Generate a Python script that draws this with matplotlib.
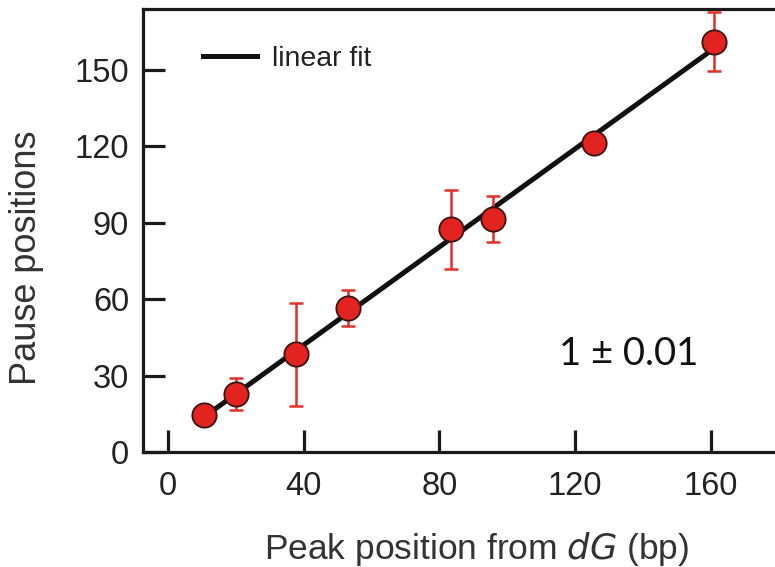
import numpy as np
import matplotlib
matplotlib.use("Agg")
import matplotlib.pyplot as plt

# values
peak_pos = [10.7, 20.1, 37.8, 53.2, 83.3, 95.7, 125.5, 161.0]
pause_pos = [14.5, 22.8, 38.4, 56.5, 87.5, 91.5, 121.3, 161.1]
pause_err = [0, 6.2, 20.3, 7.2, 15.5, 9.2, 3.0, 11.6]
xticks = [0, 40, 80, 120, 160]
yticks = [0, 30, 60, 90, 120, 150]
slope_text = "1 \u00b1 0.01"

plt.rcParams['font.family'] = ['Liberation Sans', 'DejaVu Sans']

fig = plt.figure(figsize=(7.75, 5.67), dpi=100)
ax = fig.add_axes([0.1845, 0.2028, 0.8155, 0.7813])

# linear fit through the points
k, b = np.polyfit(peak_pos, pause_pos, 1)
fx = np.array([min(peak_pos), max(peak_pos)])
ax.plot(fx, k * fx + b, '-', color='#111111', lw=3.6, label='linear fit', zorder=2)

ax.errorbar(peak_pos, pause_pos, yerr=pause_err, fmt='none', ecolor='#e0302a',
            elinewidth=1.8, capsize=5, capthick=1.8, zorder=3)
ax.plot(peak_pos, pause_pos, 'o', ms=17.5, mfc='#e2231f', mec='#3a1410', mew=1.3,
        linestyle='none', zorder=4)

ax.set_xlim(-7.4, 179)
ax.set_ylim(0, 174)
ax.set_xticks(xticks)
ax.set_yticks(yticks)

for s in ['left', 'bottom', 'top']:
    ax.spines[s].set_linewidth(2.3)
    ax.spines[s].set_color('#1a1a1a')
ax.spines['right'].set_visible(False)

ax.tick_params(axis='both', direction='in', length=16, width=2.3, color='#1a1a1a',
               labelsize=23.5, labelcolor='#222222')
ax.tick_params(axis='x', pad=14)
ax.tick_params(axis='y', pad=10)

ax.set_xlabel('Peak position from $\\it{dG}$ (bp)', fontsize=25.5, color='#333333')
ax.xaxis.set_label_coords(0.528, -0.175)
ax.set_ylabel('Pause positions', fontsize=26, color='#333333')
ax.yaxis.set_label_coords(-0.157, 0.438)

leg = ax.legend(loc='upper left', frameon=False, fontsize=20.5, handlelength=1.9,
                handletextpad=0.5, bbox_to_anchor=(0.055, 0.975))
for t in leg.get_texts():
    t.set_color('#222222')

ax.text(135.8, 38.5, slope_text, fontsize=27.5, family=['Lato', 'DejaVu Sans'],
        color='#111111', ha='center', va='center')

fig.savefig('out.png', dpi=100)
